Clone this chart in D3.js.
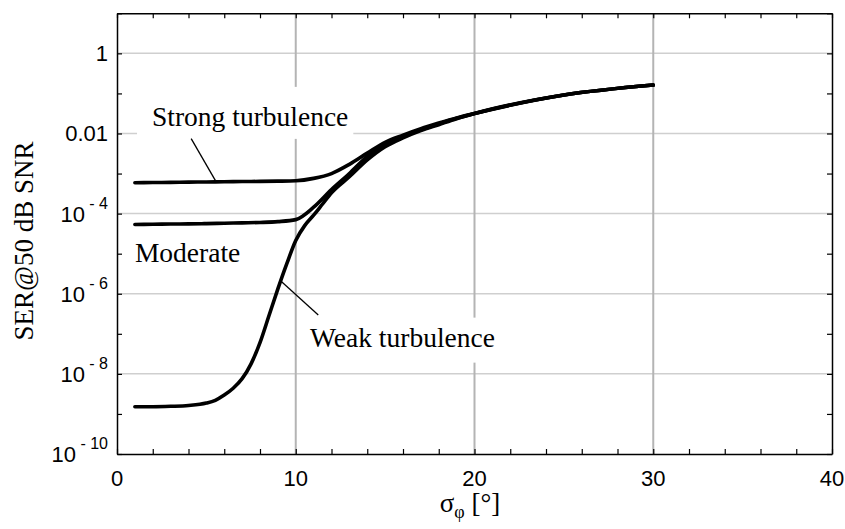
<!DOCTYPE html>
<html>
<head>
<meta charset="utf-8">
<script src="https://cdn.jsdelivr.net/npm/d3@7"></script>
<style>
  body { margin: 0; background: #fff; }
  .tick-label { font-family: "Liberation Sans", Arial, sans-serif; font-size: 22px; fill: #000; }
  .serif { font-family: "Liberation Serif", "Times New Roman", serif; fill: #000; }
</style>
</head>
<body>
<div id="chart"></div>
<script>
// sigma_phi in degrees
var xVals = [1, 2, 3, 4, 5, 6, 7, 8, 9, 10, 11, 12, 13, 14, 15, 16, 17, 18, 19, 20, 25, 30];
var weakX = [1, 2, 3, 4, 5, 5.5, 6, 6.5, 7, 7.5, 8, 8.5, 9, 9.5, 10, 10.5, 11, 11.5, 12, 13, 14, 15, 16, 17, 18, 19, 20, 25, 30];

// log10 of SER @ 50 dB SNR
var strongLog = [-3.23, -3.225, -3.22, -3.215, -3.21, -3.205, -3.2, -3.195, -3.19, -3.18, -3.12, -3.0, -2.77, -2.49, -2.22, -2.04, -1.88, -1.74, -1.61, -1.5, -1.04, -0.79];
var moderateLog = [-4.27, -4.265, -4.26, -4.255, -4.25, -4.24, -4.23, -4.22, -4.2, -4.15, -3.84, -3.4, -3.0, -2.57, -2.27, -2.07, -1.9, -1.76, -1.62, -1.5, -1.04, -0.79];
var weakLog = [-8.82, -8.82, -8.81, -8.79, -8.73, -8.66, -8.53, -8.36, -8.12, -7.75, -7.22, -6.55, -5.88, -5.25, -4.67, -4.3, -4.04, -3.76, -3.48, -3.08, -2.66, -2.33, -2.11, -1.93, -1.78, -1.63, -1.5, -1.04, -0.79];

var seriesNames = ["Strong turbulence", "Moderate", "Weak turbulence"];

var xTicks = [0, 10, 20, 30, 40];
var yTicks = [1, 0.01, 1e-4, 1e-6, 1e-8, 1e-10];
var yTickBase = ["1", "0.01", "10", "10", "10", "10"];
var yTickExp = ["", "", "- 4", "- 6", "- 8", "- 10"];

var width = 845,
  height = 529,
  mLeft = 117,
  mRight = 832,
  mTop = 13.3,
  mBottom = 454;

var svg = d3
  .select("#chart")
  .append("svg")
  .attr("width", width)
  .attr("height", height);

var x = d3.scaleLinear().domain([0, 40]).range([mLeft, mRight]);
var y = d3.scaleLog().domain([1e-10, 10]).range([mBottom, mTop]);

var gridG = svg.append("g");
var boxG = svg.append("g");
var axisG = svg.append("g");
var curveG = svg.append("g");
var textG = svg.append("g");

//grid lines: horizontal light, vertical darker
gridG
  .selectAll(".hgrid")
  .data(yTicks.slice(0, 5))
  .enter()
  .append("line")
  .attr("x1", mLeft)
  .attr("x2", mRight)
  .attr("y1", function(d) { return y(d); })
  .attr("y2", function(d) { return y(d); })
  .attr("stroke", "#cfcfcf")
  .attr("stroke-width", 1.5);

gridG
  .selectAll(".vgrid")
  .data([10, 20, 30])
  .enter()
  .append("line")
  .attr("x1", function(d) { return x(d); })
  .attr("x2", function(d) { return x(d); })
  .attr("y1", mTop)
  .attr("y2", mBottom)
  .attr("stroke", "#b4b4b4")
  .attr("stroke-width", 2);

//axes with inward ticks
var minorX = d3.range(0, 41, 2);
var minorY = d3.range(-10, 2).map(function(e) { return Math.pow(10, e); });

axisG.append("g")
  .attr("transform", "translate(0," + mBottom + ")")
  .call(d3.axisBottom(x).tickValues(minorX).tickSize(-5).tickSizeOuter(0).tickFormat(""));
axisG.append("g")
  .attr("transform", "translate(0," + mTop + ")")
  .call(d3.axisTop(x).tickValues(minorX).tickSize(-5).tickSizeOuter(0).tickFormat(""));
axisG.append("g")
  .attr("transform", "translate(" + mLeft + ",0)")
  .call(d3.axisLeft(y).tickValues(minorY).tickSize(-5).tickSizeOuter(0).tickFormat(""));
axisG.append("g")
  .attr("transform", "translate(" + mRight + ",0)")
  .call(d3.axisRight(y).tickValues(minorY).tickSize(-5).tickSizeOuter(0).tickFormat(""));

axisG.selectAll(".domain").attr("stroke", "#000").attr("stroke-width", 1.5);
axisG.selectAll(".tick line").attr("stroke", "#000").attr("stroke-width", 1.2);

//x tick labels
textG
  .selectAll(".xlab")
  .data(xTicks)
  .enter()
  .append("text")
  .attr("class", "tick-label")
  .attr("x", function(d) { return x(d); })
  .attr("y", mBottom + 31.5)
  .attr("text-anchor", "middle")
  .text(function(d) { return d; });

//y tick labels, with superscript exponents
var ylab = textG
  .selectAll(".ylab")
  .data(yTicks)
  .enter()
  .append("text")
  .attr("class", "tick-label")
  .attr("x", 108)
  .attr("y", function(d) { return y(d) + 8; })
  .attr("text-anchor", "end");
ylab.append("tspan").text(function(d, i) { return yTickBase[i]; });
ylab
  .append("tspan")
  .attr("dy", -13)
  .attr("font-size", "16px")
  .text(function(d, i) { return yTickExp[i] ? " " + yTickExp[i] : ""; });

//curves
var line = d3
  .line()
  .x(function(d) { return x(d[0]); })
  .y(function(d) { return y(Math.pow(10, d[1])); })
  .curve(d3.curveMonotoneX);

[[xVals, strongLog], [xVals, moderateLog], [weakX, weakLog]].forEach(function(s) {
  curveG
    .append("path")
    .datum(s[0].map(function(v, i) { return [v, s[1][i]]; }))
    .attr("fill", "none")
    .attr("stroke", "#000")
    .attr("stroke-width", 3.6)
    .attr("stroke-linecap", "round")
    .attr("d", line);
});

//labels with white boxes behind them
function label(txt, xv, yl, pad) {
  var t = textG
    .append("text")
    .attr("class", "serif")
    .attr("font-size", "27.5px")
    .attr("x", x(xv))
    .attr("y", y(Math.pow(10, yl)))
    .text(txt);
  var b = t.node().getBBox();
  if (pad) {
    boxG
      .append("rect")
      .attr("x", b.x - pad[0])
      .attr("y", b.y - pad[2])
      .attr("width", b.width + pad[0] + pad[1])
      .attr("height", b.height + pad[2] + pad[3])
      .attr("fill", "#fff");
  }
}

label(seriesNames[0], 1.96, -1.81, [15, 5, 14, 7]);
label(seriesNames[1], 1.0, -5.2);
label(seriesNames[2], 10.8, -7.32, [6, 6, 4, 10]);

//leader lines
var leaders = [[4.15, -2.13, 5.54, -3.2], [9.21, -5.7, 11.26, -6.53]];
leaders.forEach(function(l) {
  curveG
    .append("line")
    .attr("x1", x(l[0]))
    .attr("y1", y(Math.pow(10, l[1])))
    .attr("x2", x(l[2]))
    .attr("y2", y(Math.pow(10, l[3])))
    .attr("stroke", "#000")
    .attr("stroke-width", 1.3);
});

//axis titles
textG
  .append("text")
  .attr("class", "serif")
  .attr("font-size", "27px")
  .attr("text-anchor", "middle")
  .attr("transform", "translate(33,241) rotate(-90)")
  .text("SER@50 dB SNR");

var xt = textG
  .append("text")
  .attr("class", "serif")
  .attr("font-size", "27px")
  .attr("text-anchor", "middle")
  .attr("x", 470)
  .attr("y", 512);
xt.append("tspan").text("σ");
xt.append("tspan").attr("font-size", "18px").attr("dy", 6).text("φ");
xt.append("tspan").attr("dy", -6).text(" [°]");
</script>
</body>
</html>
